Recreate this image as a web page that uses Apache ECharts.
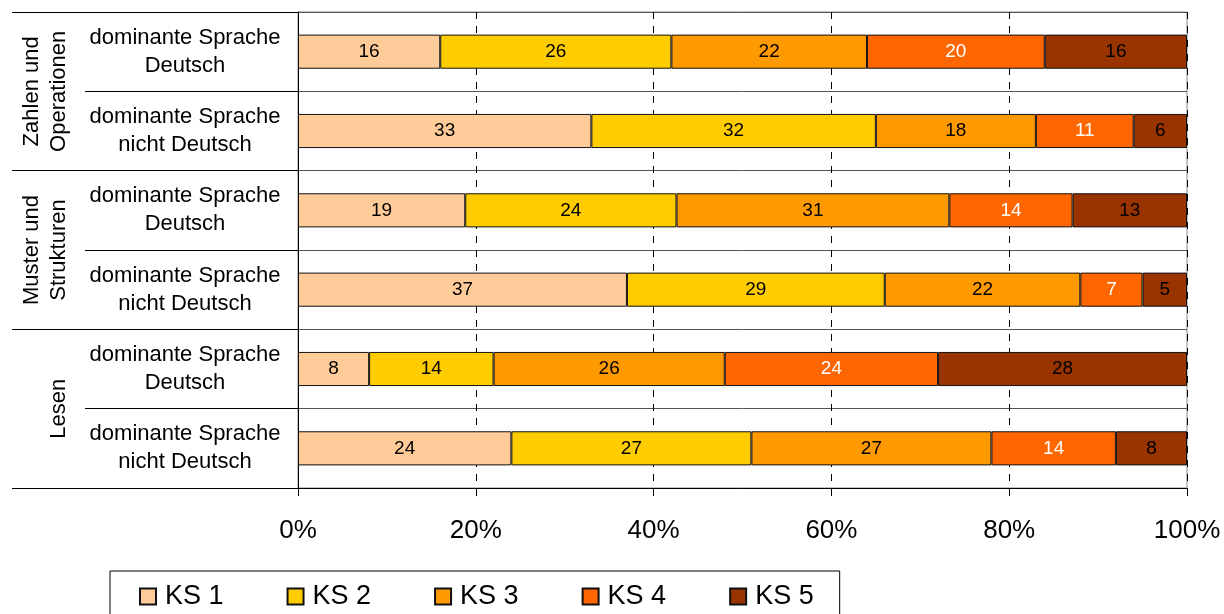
<!DOCTYPE html>
<html>
<head>
<meta charset="utf-8">
<script src="https://cdn.jsdelivr.net/npm/echarts@6/dist/echarts.min.js"></script>
<style>
  html, body { margin: 0; padding: 0; background: #fff; }
  #chart { width: 1224px; height: 614px; }
</style>
</head>
<body>
<div id="chart"></div>
<script>
// Rows (top to bottom) and their domain groups
const rowLabels = [
  'dominante Sprache\nDeutsch',
  'dominante Sprache\nnicht Deutsch',
  'dominante Sprache\nDeutsch',
  'dominante Sprache\nnicht Deutsch',
  'dominante Sprache\nDeutsch',
  'dominante Sprache\nnicht Deutsch'
];
const groupLabels = ['Zahlen und\nOperationen', 'Muster und\nStrukturen', 'Lesen'];

// Share of pupils per competence level (percent)
const seriesNames = ['KS 1', 'KS 2', 'KS 3', 'KS 4', 'KS 5'];
const ks1 = [16, 33, 19, 37, 8, 24];
const ks2 = [26, 32, 24, 29, 14, 27];
const ks3 = [22, 18, 31, 22, 26, 27];
const ks4 = [20, 11, 14, 7, 24, 14];
const ks5 = [16, 6, 13, 5, 28, 8];

const xTicks = [0, 20, 40, 60, 80, 100];

const colors = ['#FFCC99', '#FFCC00', '#FF9900', '#FF6600', '#993300'];
const labelColors = ['#000', '#000', '#000', '#fff', '#000'];

const FONT = '"Liberation Sans", Arial, sans-serif';
const allValues = [ks1, ks2, ks3, ks4, ks5];

// 100 % stacking: each row is scaled to its own total
const rowTotals = rowLabels.map((_, i) => allValues.reduce((s, arr) => s + arr[i], 0));

const series = allValues.map((vals, k) => ({
  name: seriesNames[k],
  type: 'bar',
  stack: 'total',
  yAxisIndex: 0,
  barWidth: '43%',
  data: vals.map((v, i) => ({ value: v / rowTotals[i] * 100, raw: v })),
  itemStyle: { color: colors[k], borderColor: '#111', borderWidth: 1 },
  label: {
    show: true,
    position: 'inside',
    color: labelColors[k],
    fontFamily: FONT,
    fontSize: 19,
    formatter: p => p.data.raw
  },
  emphasis: { disabled: true }
}));

const chart = echarts.init(document.getElementById('chart'), null, { renderer: 'canvas' });
chart.setOption({
  animation: false,
  backgroundColor: '#fff',
  grid: {
    left: 298, right: 37, top: 12, bottom: 126,
    show: true, borderColor: '#888', borderWidth: 1
  },
  legend: {
    data: seriesNames,
    left: 110, top: 571,
    orient: 'horizontal',
    icon: 'rect',
    itemWidth: 16, itemHeight: 16,
    itemGap: 63,
    padding: [12, 26, 20, 29],
    borderColor: '#000', borderWidth: 1,
    textStyle: { fontFamily: FONT, fontSize: 27, color: '#000', padding: [0, 0, 0, 4] }
  },
  xAxis: {
    type: 'value',
    min: xTicks[0], max: xTicks[xTicks.length - 1], interval: 20,
    axisLine: { show: true, lineStyle: { color: '#000', width: 1 } },
    axisTick: { show: true, length: 8, lineStyle: { color: '#000' } },
    axisLabel: {
      formatter: '{value}%', margin: 30,
      fontFamily: FONT, fontSize: 26, color: '#000'
    },
    splitLine: { show: true, lineStyle: { color: '#000', type: [7, 7], width: 1 } }
  },
  yAxis: [
    {
      type: 'category',
      data: rowLabels,
      inverse: true,
      position: 'left',
      axisLine: { show: true, lineStyle: { color: '#000', width: 1 } },
      axisTick: { show: true, length: 213, lineStyle: { color: '#000' } },
      axisLabel: {
        align: 'center', margin: 113,
        fontFamily: FONT, fontSize: 22, lineHeight: 28, color: '#000'
      },
      splitLine: { show: true, lineStyle: { color: '#555', width: 1 } }
    },
    {
      type: 'category',
      data: groupLabels,
      inverse: true,
      position: 'left',
      axisLine: { show: false },
      axisTick: { show: true, length: 286, lineStyle: { color: '#000' } },
      axisLabel: {
        rotate: 90, margin: 226,
        fontFamily: FONT, fontSize: 22, lineHeight: 27, color: '#000'
      },
      splitLine: { show: false }
    }
  ],
  series: series
});
</script>
</body>
</html>
